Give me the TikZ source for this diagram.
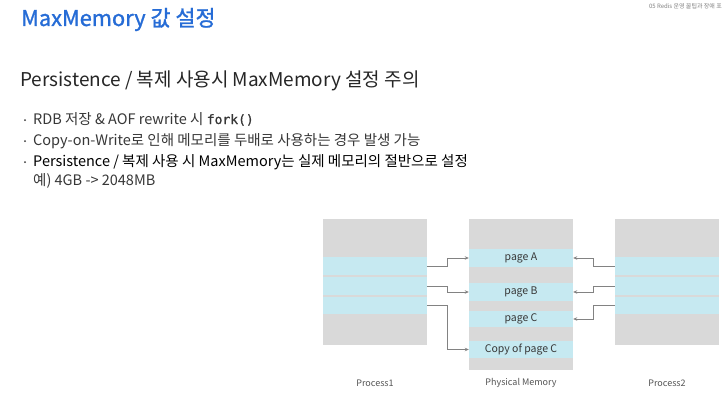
\documentclass[tikz,border=0pt]{standalone}
\usepackage{fontspec}
\setmainfont{Noto Sans CJK KR}
\newfontfamily\headfont[FakeBold=1.2]{Noto Sans CJK KR}
\newfontfamily\codefont[FakeBold=0.8]{DejaVu Sans Mono}
\usetikzlibrary{positioning,arrows.meta}
\tikzset{>=Stealth}
\definecolor{titleblue}{RGB}{38,108,214}
\definecolor{memgray}{RGB}{217,217,217}
\definecolor{pageblue}{RGB}{198,233,241}
\definecolor{linkgray}{RGB}{130,130,130}
\definecolor{bodytext}{RGB}{55,55,55}
\tikzstyle{membox}=[fill=memgray,draw=none,inner sep=0,minimum width=104]
\tikzstyle{pagebox}=[fill=pageblue,draw=none,inner sep=0,minimum width=104,font=\fontsize{10.5}{12}\selectfont,text=bodytext]
\tikzstyle{memlabel}=[font=\fontsize{9}{11}\selectfont,text=bodytext!85]
\tikzstyle{link}=[-{Stealth[length=4,width=3.5]},linkgray,line width=0.7]
\tikzstyle{bulletline}=[anchor=base west,inner sep=0,font=\fontsize{14.5}{16}\selectfont]

\begin{document}
\begin{tikzpicture}[x=1pt,y=-1pt]
  \useasboundingbox[fill=white] (0,0) rectangle (723,404);
  % headings
  \node[anchor=base west,inner sep=0,text=titleblue,font=\headfont\fontsize{21.8}{26}\selectfont]
    (title) at (21,26) {MaxMemory 값 설정};
  \node[anchor=base east,inner sep=0,text=gray,font=\fontsize{6}{7}\selectfont]
    (chapter) at (722,9) {05 Redis 운영 꿀팁과 장애 포};
  \node[anchor=base west,inner sep=0,font=\fontsize{19}{22}\selectfont,text=black!85]
    (subtitle) at (20,86) {Persistence / 복제 사용시 MaxMemory 설정 주의};
  % bullets
  \foreach \y/\txt/\col [count=\i] in {
      124/{RDB 저장 \& AOF rewrite 시 {\codefont\fontsize{13}{15}\selectfont fork()}}/bodytext,
      145/{Copy-on-Write로 인해 메모리를 두배로 사용하는 경우 발생 가능}/bodytext,
      166/{Persistence / 복제 사용 시 MaxMemory는 실제 메모리의 절반으로 설정}/black}{
    \node[bulletline,text=\col] (b\i) at (33,\y) {\txt};
    \fill[bodytext] (25,\y-4) circle (1);
  }
  \node[bulletline,text=bodytext] (b4) at (33,185) {예) 4GB -> 2048MB};
  % memory blocks
  \node[membox,minimum height=126] (proc1) at (375,282) {};
  \node[membox,minimum height=151] (phys) at (521,294.5) {};
  \node[membox,minimum height=126] (proc2) at (667,282) {};
  \node[memlabel] (lab1) at (375,383) {Process1};
  \node[memlabel] (labphys) at (521,383) {Physical Memory};
  \node[memlabel] (lab2) at (667,383) {Process2};
  % pages
  \foreach \n/\y/\h in {a/266/18,b/286/18,c/305.5/17}{
    \node[pagebox,minimum height=\h] (p1\n) at (375,\y) {};
    \node[pagebox,minimum height=\h] (p2\n) at (667,\y) {};
  }
  \node[pagebox,minimum height=18] (pA) at (521,258) {page A};
  \node[pagebox,minimum height=18] (pB) at (521,292) {page B};
  \node[pagebox,minimum height=16] (pC) at (521,319) {page C};
  \node[pagebox,minimum height=17] (pCc) at (521,349.5) {Copy of page C};
  % links
  \draw[link] (p1a.east) -- ++(20,0) |- (pA.west);
  \draw[link] (p1b.east) -- ++(20,0) |- (pB.west);
  \draw[link] (p1c.east) -- ++(20,0) |- (pCc.west);
  \draw[link] (p2a.west) -- ++(-21,0) |- (pA.east);
  \draw[link] (p2b.west) -- ++(-21,0) |- (pB.east);
  \draw[link] (p2c.west) -- ++(-21,0) |- (pC.east);
\end{tikzpicture}
\end{document}
